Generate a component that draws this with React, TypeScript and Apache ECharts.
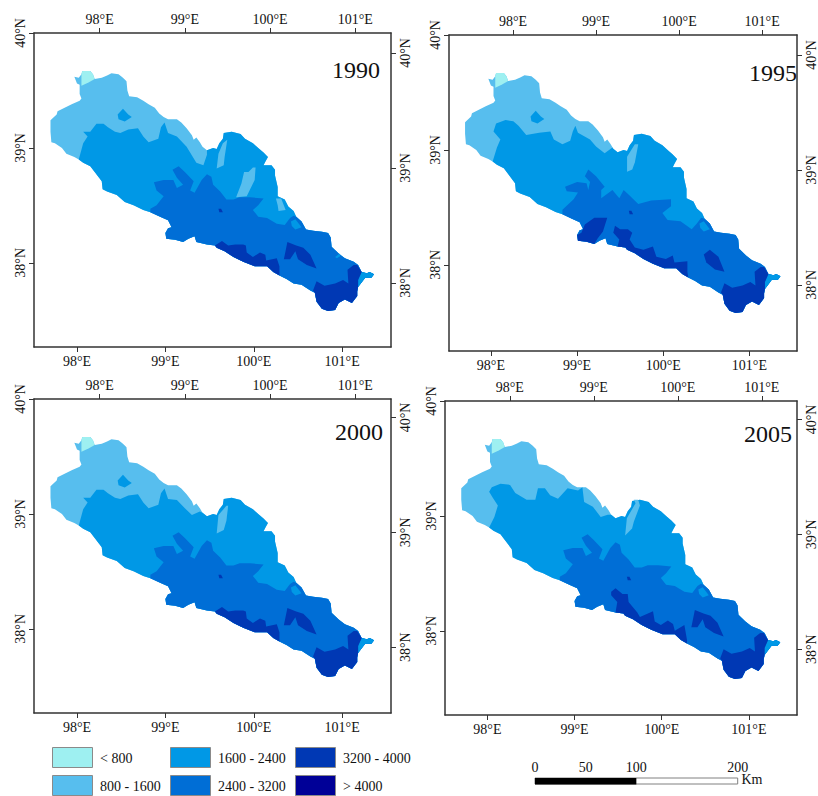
import React, { useEffect, useRef } from "react";
import * as echarts from "echarts";

type Pt = number[];

const FONT = '"Liberation Serif", "Times New Roman", serif';

const classNames = ["< 800", "800 - 1600", "1600 - 2400", "2400 - 3200", "3200 - 4000", "> 4000"];
const classColors = ["#9EF0F1", "#57BEEE", "#0098E6", "#006ED6", "#0038B4", "#000097"];
const years = ["1990", "1995", "2000", "2005"];
const lonTicks = [98, 99, 100, 101];
const latTicks = [38, 39, 40];
const scaleTicks = [0, 50, 100, 200];

// basin outline pieces, longitude / latitude, clockwise
const edgeNW: Pt[] = [[98.02,38.90],[97.97,38.92],[97.88,38.95],[97.83,39.00],[97.75,39.04],[97.71,39.05],[97.70,39.14],[97.70,39.24],[97.77,39.29],[97.78,39.32],[97.86,39.35],[97.94,39.38],[98.03,39.41],[98.05,39.43],[98.03,39.47],[98.03,39.55],[98.00,39.56],[97.97,39.62],[98.02,39.61],[98.05,39.64],[98.06,39.67],[98.15,39.67],[98.18,39.64],[98.20,39.60],[98.28,39.61],[98.34,39.63],[98.39,39.65],[98.47,39.64],[98.52,39.61],[98.56,39.58],[98.57,39.50],[98.59,39.45],[98.68,39.44],[98.75,39.41],[98.81,39.38],[98.88,39.35],[98.93,39.30],[98.98,39.27],[99.03,39.25],[99.13,39.25],[99.18,39.22],[99.24,39.17],[99.30,39.11],[99.32,39.07],[99.35,39.09],[99.39,39.05],[99.42,39.01]];
const edgeNE: Pt[] = [[99.47,38.98],[99.54,39.00],[99.58,38.99],[99.61,39.04],[99.65,39.08],[99.66,39.13],[99.75,39.14],[99.85,39.12],[99.90,39.08],[99.99,39.04],[100.05,39.00],[100.11,38.96],[100.16,38.92],[100.13,38.88],[100.11,38.85],[100.20,38.85],[100.24,38.81],[100.24,38.76],[100.27,38.66],[100.27,38.58],[100.35,38.55],[100.39,38.49],[100.45,38.45]];
const edgeE: Pt[] = [[100.48,38.40],[100.54,38.36],[100.59,38.29],[100.67,38.28],[100.77,38.27],[100.84,38.26],[100.87,38.22],[100.88,38.14],[100.96,38.08],[101.03,38.04],[101.13,38.01],[101.18,37.98],[101.22,37.92]];
const edgeTip: Pt[] = [[101.28,37.91],[101.31,37.92],[101.36,37.90],[101.33,37.87],[101.26,37.87],[101.18,37.79]];
const edgeLobe: Pt[] = [[101.17,37.75],[101.17,37.71],[101.11,37.65],[101.03,37.68],[100.96,37.65],[100.92,37.59],[100.84,37.58],[100.77,37.60],[100.71,37.66],[100.69,37.74]];
const edgeS1: Pt[] = [[100.64,37.76],[100.54,37.81],[100.45,37.82],[100.37,37.86],[100.29,37.89]];
const edgeS2: Pt[] = [[100.22,37.92],[100.15,37.97],[100.01,37.97],[99.88,38.01],[99.77,38.05],[99.67,38.10],[99.58,38.13],[99.56,38.15]];
const edgeS3: Pt[] = [[99.47,38.16],[99.35,38.18],[99.33,38.23],[99.26,38.21],[99.20,38.18],[99.11,38.20],[99.01,38.21],[99.00,38.26],[99.03,38.30],[99.07,38.31],[99.03,38.37],[98.94,38.40],[98.83,38.44]];
const edgeSW: Pt[] = [[98.75,38.46],[98.64,38.50],[98.54,38.53],[98.45,38.59],[98.34,38.62],[98.29,38.64],[98.28,38.71],[98.20,38.79],[98.15,38.84],[98.07,38.87]];

const under800: Pt[] = [[98.05,39.64],[98.06,39.67],[98.15,39.67],[98.18,39.64],[98.20,39.60],[98.13,39.57],[98.05,39.54]];
const northBlob: Pt[] = [[98.46,39.29],[98.52,39.34],[98.58,39.29],[98.62,39.27],[98.54,39.23],[98.47,39.25]];

// boundary of the 1600 - 2400 class against the 800 - 1600 class
const mid1990: Pt[] = [[98.02,38.90],[98.07,39.04],[98.12,39.10],[98.07,39.14],[98.15,39.14],[98.22,39.21],[98.30,39.21],[98.35,39.18],[98.43,39.14],[98.49,39.13],[98.58,39.16],[98.69,39.17],[98.75,39.10],[98.81,39.05],[98.92,39.08],[98.95,39.18],[98.99,39.22],[99.03,39.13],[99.13,39.10],[99.24,39.01],[99.35,38.87],[99.43,38.85],[99.47,38.94]];
const mid1995: Pt[] = [[98.02,38.90],[98.07,39.02],[98.11,39.09],[98.03,39.16],[98.06,39.23],[98.17,39.26],[98.26,39.25],[98.32,39.21],[98.41,39.13],[98.56,39.15],[98.69,39.16],[98.73,39.09],[98.83,39.05],[98.92,39.08],[98.95,39.16],[98.98,39.21],[99.01,39.15],[99.15,39.09],[99.22,39.03],[99.32,38.97],[99.41,39.02],[99.42,39.01]];
const mid2000: Pt[] = [[98.02,38.90],[98.07,39.04],[98.12,39.10],[98.07,39.14],[98.15,39.14],[98.22,39.21],[98.30,39.21],[98.35,39.18],[98.43,39.14],[98.49,39.13],[98.58,39.16],[98.69,39.17],[98.75,39.10],[98.81,39.05],[98.92,39.08],[98.95,39.18],[98.99,39.22],[99.03,39.13],[99.13,39.12],[99.22,39.05],[99.30,38.99],[99.39,39.02],[99.42,39.01]];
const mid2005: Pt[] = [[98.02,38.90],[98.08,38.99],[98.12,39.09],[98.06,39.16],[98.02,39.21],[98.05,39.25],[98.15,39.28],[98.26,39.27],[98.32,39.20],[98.45,39.14],[98.55,39.14],[98.58,39.24],[98.66,39.24],[98.72,39.18],[98.81,39.15],[98.92,39.24],[99.04,39.22],[99.09,39.25],[99.11,39.12],[99.21,39.08],[99.30,38.99],[99.38,39.01],[99.42,39.01]];

// strips of the 800 - 1600 class inside the 1600 - 2400 class
const strip1990a: Pt[] = [[99.58,38.82],[99.60,38.95],[99.65,39.04],[99.70,39.07],[99.67,38.92],[99.66,38.85]];
const strip1990b: Pt[] = [[99.80,38.57],[99.86,38.69],[99.89,38.79],[99.94,38.79],[99.99,38.83],[100.02,38.83],[100.01,38.72],[99.92,38.58]];
const strip1990c: Pt[] = [[100.25,38.56],[100.31,38.56],[100.36,38.46],[100.28,38.45],[100.27,38.50]];
const strip1995: Pt[] = [[99.58,38.81],[99.58,38.94],[99.67,39.05],[99.71,39.05],[99.67,38.89],[99.64,38.83]];
const strip2000: Pt[] = [[99.58,38.83],[99.60,38.99],[99.69,39.07],[99.71,39.07],[99.69,38.94],[99.66,38.86]];
const strip2005: Pt[] = [[99.58,38.83],[99.60,38.98],[99.70,39.11],[99.68,39.14],[99.73,39.14],[99.75,39.09],[99.68,38.95],[99.66,38.89]];

// boundary of the 2400 - 3200 class
const high1990: Pt[] = [[98.83,38.47],[98.90,38.50],[98.98,38.58],[98.90,38.63],[98.87,38.70],[98.98,38.72],[99.09,38.72],[99.13,38.65],[99.20,38.68],[99.13,38.74],[99.08,38.81],[99.15,38.84],[99.22,38.79],[99.32,38.71],[99.28,38.63],[99.33,38.61],[99.41,38.72],[99.47,38.77],[99.52,38.75],[99.54,38.68],[99.62,38.62],[99.69,38.55],[99.77,38.55],[99.84,38.57],[99.96,38.57],[100.11,38.56],[100.05,38.50],[99.99,38.46],[100.05,38.40],[100.15,38.39],[100.26,38.34],[100.35,38.33],[100.41,38.39],[100.45,38.41]];
const high1995: Pt[] = [[98.83,38.48],[98.96,38.57],[99.01,38.63],[98.88,38.64],[98.86,38.68],[99.00,38.72],[99.11,38.71],[99.13,38.65],[99.15,38.72],[99.09,38.77],[99.13,38.83],[99.22,38.77],[99.32,38.68],[99.28,38.65],[99.28,38.58],[99.41,38.65],[99.49,38.58],[99.54,38.65],[99.60,38.61],[99.71,38.53],[99.86,38.56],[100.09,38.57],[100.09,38.51],[99.99,38.45],[100.05,38.39],[100.20,38.38],[100.33,38.31],[100.39,38.36],[100.44,38.41]];

const midPatch: Pt[] = [[100.42,38.36],[100.47,38.38],[100.54,38.31],[100.47,38.29],[100.43,38.32]];
const midSliver: Pt[] = [[100.92,38.05],[100.97,38.08],[100.98,38.06],[100.94,38.04]];
const tipInner: Pt[] = [[101.22,37.92],[101.18,37.85]];
const spot: Pt[] = [[99.60,38.47],[99.63,38.47],[99.65,38.44],[99.61,38.44]];

// 3200 - 4000 class
const lobeInner: Pt[] = [[100.67,37.76],[100.71,37.84],[100.80,37.80],[100.92,37.82],[101.01,37.85],[101.07,37.82],[101.06,37.94],[101.13,37.98],[101.17,37.98],[101.22,37.92],[101.18,37.85],[101.18,37.79]];
const inner1990: Pt[] = [[100.34,38.03],[100.38,38.18],[100.48,38.15],[100.56,38.13],[100.64,38.07],[100.71,37.95],[100.60,37.98],[100.50,38.03],[100.47,38.10],[100.41,38.03]];
const inner1995: Pt[] = [[100.47,38.09],[100.54,38.13],[100.64,38.07],[100.71,37.94],[100.60,37.96],[100.50,38.02]];
const south1990: Pt[] = [[99.56,38.15],[99.64,38.19],[99.71,38.15],[99.79,38.16],[99.88,38.16],[99.91,38.15],[99.92,38.09],[99.99,38.05],[100.07,38.09],[100.13,38.07],[100.14,38.02],[100.26,38.04],[100.29,37.97],[100.29,37.89]];
const south1995: Pt[] = [[99.49,38.22],[99.42,38.28],[99.44,38.34],[99.50,38.31],[99.59,38.31],[99.64,38.28],[99.61,38.22],[99.67,38.15],[99.77,38.13],[99.88,38.16],[99.92,38.07],[100.03,38.05],[100.11,38.08],[100.13,38.02],[100.28,38.03],[100.28,37.94],[100.29,37.89]];
const south2005: Pt[] = [[99.49,38.25],[99.42,38.31],[99.42,38.34],[99.47,38.37],[99.55,38.32],[99.61,38.32],[99.62,38.25],[99.72,38.16],[99.75,38.12],[99.90,38.17],[99.92,38.08],[99.99,38.05],[100.07,38.09],[100.13,38.06],[100.15,38.00],[100.26,38.05],[100.29,37.92],[100.29,37.89]];
const west1995: Pt[] = [[99.00,38.26],[99.05,38.28],[99.09,38.35],[99.20,38.41],[99.35,38.41],[99.30,38.29],[99.24,38.23],[99.20,38.18],[99.11,38.20],[99.01,38.21]];
const southJoin: Pt[] = [[99.47,38.16]];

const basin = [...edgeNW, ...edgeNE, ...edgeE, ...edgeTip, ...edgeLobe, ...edgeS1, ...edgeS2, ...edgeS3, ...edgeSW];
const midZone = (b: Pt[]) => [...b, ...edgeNE, ...edgeE, ...edgeTip, ...edgeLobe, ...edgeS1, ...edgeS2, ...edgeS3, ...edgeSW];
const highZone = (b: Pt[]) => [...b, ...edgeE, ...edgeTip, ...edgeLobe, ...edgeS1, ...edgeS2, ...edgeS3];
const tip = [[101.22, 37.92], ...edgeTip, tipInner[1]];
const lobe = [...lobeInner, ...edgeLobe];

type Layer = { c: number; p: Pt[] };
const panelLayers: Layer[][] = [
  [
    { c: 1, p: basin }, { c: 0, p: under800 }, { c: 2, p: northBlob }, { c: 2, p: midZone(mid1990) },
    { c: 1, p: strip1990a }, { c: 1, p: strip1990b }, { c: 1, p: strip1990c },
    { c: 3, p: highZone(high1990) }, { c: 2, p: midPatch }, { c: 2, p: midSliver }, { c: 2, p: tip },
    { c: 4, p: inner1990 }, { c: 4, p: spot }, { c: 4, p: lobe }, { c: 4, p: [...south1990, ...edgeS2] },
  ],
  [
    { c: 1, p: basin }, { c: 0, p: under800 }, { c: 2, p: northBlob }, { c: 2, p: midZone(mid1995) },
    { c: 1, p: strip1995 },
    { c: 3, p: highZone(high1995) }, { c: 2, p: midPatch }, { c: 2, p: tip },
    { c: 4, p: inner1995 }, { c: 4, p: spot }, { c: 4, p: lobe }, { c: 4, p: west1995 },
    { c: 4, p: [...south1995, ...edgeS2, ...southJoin] },
  ],
  [
    { c: 1, p: basin }, { c: 0, p: under800 }, { c: 2, p: northBlob }, { c: 2, p: midZone(mid2000) },
    { c: 1, p: strip2000 },
    { c: 3, p: highZone(high1990) }, { c: 2, p: midPatch }, { c: 2, p: tip },
    { c: 4, p: inner1990 }, { c: 4, p: spot }, { c: 4, p: lobe }, { c: 4, p: [...south1990, ...edgeS2] },
  ],
  [
    { c: 1, p: basin }, { c: 0, p: under800 }, { c: 2, p: midZone(mid2005) },
    { c: 1, p: strip2005 },
    { c: 3, p: highZone(high1990) }, { c: 2, p: midPatch }, { c: 2, p: tip },
    { c: 4, p: inner1990 }, { c: 4, p: spot }, { c: 4, p: lobe },
    { c: 4, p: [...south2005, ...edgeS2, ...southJoin] },
  ],
];

const frames = [
  { left: 34, top: 33, height: 314, rightMax: 40.174, yearRight: 380, yearY: 70 },
  { left: 449, top: 35, height: 316, rightMax: 40.174, yearRight: 797, yearY: 73 },
  { left: 34, top: 399, height: 314, rightMax: 40.16, yearRight: 383, yearY: 432 },
  { left: 445, top: 401, height: 314, rightMax: 40.16, yearRight: 792, yearY: 434 },
];
const FRAME_W = 357;
const LAT_PX = 114.9;
const AXIS = "#333333";

function buildOption() {
  const grid: any[] = [];
  const xAxis: any[] = [];
  const yAxis: any[] = [];
  const series: any[] = [];
  const graphic: any[] = [];
  const common = (name: string) => ({
    type: "value",
    splitLine: { show: false },
    axisLine: { show: true, onZero: false, lineStyle: { color: AXIS, width: 1.5 } },
    name,
  });
  const tick = (vals: number[]) => ({ show: true, length: 5, customValues: vals, lineStyle: { color: AXIS, width: 1 } });
  const label = (vals: number[], suffix: string, rotate = 0, margin = 7) => ({
    show: true,
    customValues: vals,
    rotate,
    margin,
    color: "#111111",
    fontFamily: FONT,
    fontSize: 14,
    formatter: (v: number) => `${v}°${suffix}`,
  });
  frames.forEach((f, i) => {
    grid.push({ left: f.left, top: f.top, width: FRAME_W, height: f.height, containLabel: false });
    const span = f.height / LAT_PX;
    xAxis.push({ ...common(""), gridIndex: i, position: "bottom", min: 97.5136, max: 101.552, axisTick: tick(lonTicks), axisLabel: label(lonTicks, "E") });
    xAxis.push({ ...common(""), gridIndex: i, position: "top", min: 97.229, max: 101.419, axisTick: tick(lonTicks), axisLabel: label(lonTicks, "E") });
    yAxis.push({ ...common(""), gridIndex: i, position: "left", min: 40 - span, max: 40, axisTick: tick(latTicks), axisLabel: label(latTicks, "N", 90) });
    yAxis.push({ ...common(""), gridIndex: i, position: "right", min: f.rightMax - span, max: f.rightMax, axisTick: tick(latTicks), axisLabel: label(latTicks, "N", 90) });
    const layers = panelLayers[i];
    series.push({
      type: "custom",
      name: years[i],
      xAxisIndex: i * 2,
      yAxisIndex: i * 2,
      clip: false,
      silent: true,
      data: layers.map((l) => ({ value: l.p[0], name: classNames[l.c] })),
      renderItem: (params: any, api: any) => {
        const l = layers[params.dataIndex];
        return {
          type: "polygon",
          shape: { points: l.p.map((q) => api.coord(q)) },
          style: { fill: classColors[l.c] },
        };
      },
    });
    graphic.push({
      type: "text",
      x: f.yearRight,
      y: f.yearY,
      style: { text: years[i], font: `24px ${FONT}`, fill: "#111111", align: "right", verticalAlign: "middle" },
    });
  });

  // legend
  const swatchX = [52, 170, 295];
  const textX = [100, 218, 343];
  const rowY = [747, 775];
  const rowText = [758, 786];
  classNames.forEach((n, i) => {
    const col = Math.floor(i / 2);
    const row = i % 2;
    graphic.push({
      type: "rect",
      shape: { x: swatchX[col] + 0.5, y: rowY[row] + 0.5, width: 40, height: 20 },
      style: { fill: classColors[i], stroke: "#8A8A8A", lineWidth: 1 },
    });
    graphic.push({
      type: "text",
      x: textX[col],
      y: rowText[row],
      style: { text: n, font: `14px ${FONT}`, fill: "#111111", verticalAlign: "middle" },
    });
  });

  // scale bar
  const barX = 535;
  const kmPx = 1.0135;
  graphic.push({
    type: "rect",
    shape: { x: barX, y: 778, width: 200 * kmPx, height: 6 },
    style: { fill: "#ffffff", stroke: "#808080", lineWidth: 1 },
  });
  graphic.push({ type: "rect", shape: { x: barX, y: 778, width: 100 * kmPx, height: 6.5 }, style: { fill: "#000000" } });
  scaleTicks.forEach((t) => {
    graphic.push({
      type: "text",
      x: barX + t * kmPx,
      y: 767,
      style: { text: String(t), font: `14px ${FONT}`, fill: "#111111", align: "center", verticalAlign: "middle" },
    });
  });
  graphic.push({
    type: "text",
    x: 741.5,
    y: 779,
    style: { text: "Km", font: `14px ${FONT}`, fill: "#111111", verticalAlign: "middle" },
  });

  return { animation: false, backgroundColor: "#ffffff", grid, xAxis, yAxis, series, graphic };
}

export default function App() {
  const ref = useRef<HTMLDivElement>(null);
  useEffect(() => {
    const chart = echarts.init(ref.current!, undefined, { renderer: "svg" });
    chart.setOption(buildOption() as any);
    return () => chart.dispose();
  }, []);
  return <div ref={ref} style={{ position: "absolute", left: 0, top: 0, width: 818, height: 796 }} />;
}
